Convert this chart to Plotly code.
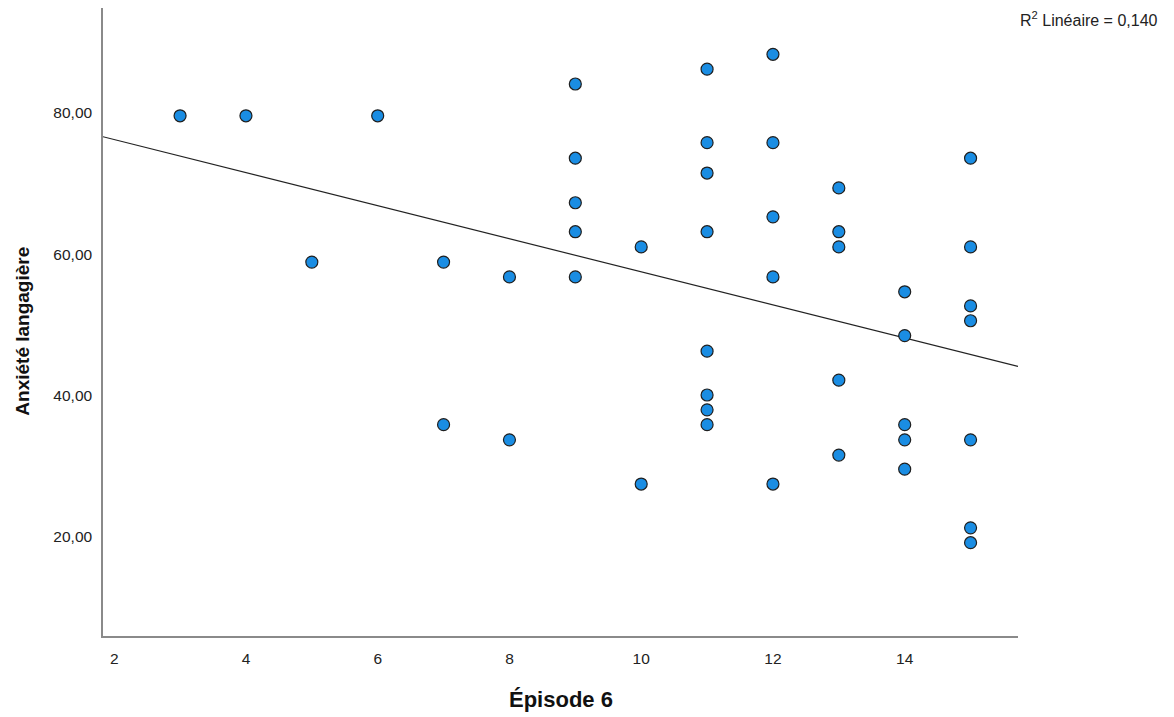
import numpy as np
import plotly.graph_objects as go

episode6 = [3, 4, 5, 6,
            7, 7,
            8, 8,
            9, 9, 9, 9, 9,
            10, 10,
            11, 11, 11, 11, 11, 11, 11, 11,
            12, 12, 12, 12, 12,
            13, 13, 13, 13, 13,
            14, 14, 14, 14, 14,
            15, 15, 15, 15, 15, 15, 15]
anxiete = [79.6, 79.6, 58.9, 79.6,
           58.9, 35.9,
           56.8, 33.75,
           84.1, 73.6, 67.3, 63.2, 56.8,
           61.05, 27.5,
           86.2, 75.8, 71.5, 63.2, 46.3, 40.1, 38.0, 35.9,
           88.3, 75.8, 65.3, 56.8, 27.5,
           69.4, 63.2, 61.05, 42.2, 31.6,
           54.7, 48.5, 35.9, 33.75, 29.6,
           73.6, 61.05, 52.7, 50.6, 33.75, 21.3, 19.2]

x_ticks = [2, 4, 6, 8, 10, 12, 14]
y_ticks = [20, 40, 60, 80]
y_ticktext = ["20,00", "40,00", "60,00", "80,00"]
x_range = [1.83, 15.72]
y_range = [6.0, 94.85]

xa = np.array(episode6, dtype=float)
ya = np.array(anxiete, dtype=float)
slope, intercept = np.polyfit(xa, ya, 1)
fit_x = np.array(x_range)
fit_y = intercept + slope * fit_x

FONT = "Liberation Sans, Arial, sans-serif"

fig = go.Figure()
fig.add_trace(go.Scatter(
    x=fit_x, y=fit_y, mode="lines",
    line=dict(color="#222222", width=1.2),
    hoverinfo="skip", showlegend=False, cliponaxis=True))
fig.add_trace(go.Scatter(
    x=episode6, y=anxiete, mode="markers",
    marker=dict(size=12, color="#1a8de3", line=dict(color="#1f1f1f", width=1.2)),
    showlegend=False))

fig.update_layout(
    width=1174, height=717,
    margin=dict(l=103, r=156, t=8, b=81, autoexpand=False),
    plot_bgcolor="white", paper_bgcolor="white",
    font=dict(family=FONT, size=15.5, color="#222222"),
    xaxis=dict(range=x_range, tickvals=x_ticks, ticks="", showgrid=False, zeroline=False,
               showline=True, linecolor="#8a8a8a", linewidth=1.5, automargin=False,
               ticklabelstandoff=8,
               tickfont=dict(size=15.5, color="#222222")),
    yaxis=dict(range=y_range, tickvals=y_ticks, ticktext=y_ticktext, ticks="", showgrid=False,
               zeroline=False, showline=True, linecolor="#8a8a8a", linewidth=1.5, automargin=False,
               ticklabelstandoff=6,
               tickfont=dict(size=15.5, color="#222222")),
    annotations=[
        dict(text="R<sup>2</sup> Linéaire = 0,140", xref="paper", yref="paper",
             x=1.0, y=1.0, xanchor="left", yanchor="middle", xshift=0, yshift=-11,
             showarrow=False, font=dict(size=16, color="#222222")),
        dict(text="<b>Épisode 6</b>", xref="paper", yref="paper",
             x=0.5, y=0.0, xanchor="center", yanchor="middle", yshift=-63,
             showarrow=False, font=dict(size=22, color="#111111")),
        dict(text="<b>Anxiété langagière</b>", xref="paper", yref="paper",
             x=0.0, y=0.4846, xanchor="center", yanchor="middle", xshift=-80,
             textangle=-90, showarrow=False, font=dict(size=19, color="#111111")),
    ],
)

fig.write_html("out.html", config={"displayModeBar": False},
               post_script="document.body.style.margin='0px';")
